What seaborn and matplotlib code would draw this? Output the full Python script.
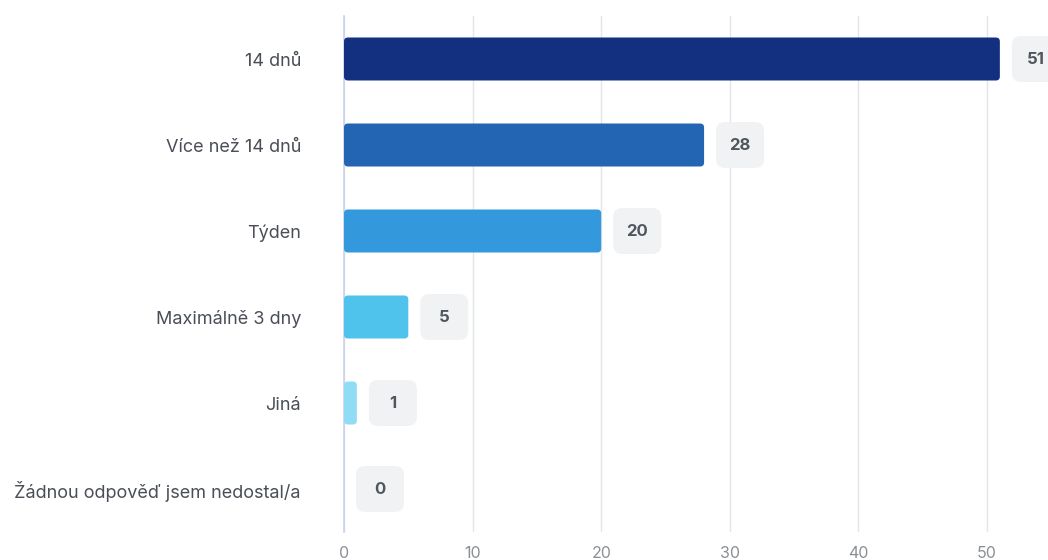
import matplotlib
matplotlib.use("Agg")
import matplotlib.pyplot as plt
from matplotlib.patches import FancyBboxPatch
import seaborn as sns
import pandas as pd

categories = ["14 dnů", "Více než 14 dnů", "Týden", "Maximálně 3 dny", "Jiná",
              "Žádnou odpověď jsem nedostal/a"]
values = [51, 28, 20, 5, 1, 0]
bar_colors = ["#12307f", "#2465b3", "#3499dc", "#4fc3ec", "#8fdcf4", "#c5ecf9"]
x_ticks = [0, 10, 20, 30, 40, 50]

sns.set_theme(style="white")
plt.rcParams["font.family"] = ["Inter", "DejaVu Sans"]

W, H = 1048, 560
fig = plt.figure(figsize=(W / 100, H / 100), dpi=100)
x_max = 55
px_per_unit = 12.86
left, top, bottom = 344, 16, 532
ax = fig.add_axes([left / W, 1 - bottom / H, x_max * px_per_unit / W, (bottom - top) / H])

df = pd.DataFrame({"cat": categories, "val": values})
sns.barplot(data=df, x="val", y="cat", hue="cat", palette=bar_colors, legend=False,
            orient="h", width=0.5, ax=ax, saturation=1)

ax.set_xlim(0, x_max)
ax.set_ylim(len(categories) - 0.5, -0.5)

# y units per pixel vs x units per pixel, for round corners in screen space
row_px = (bottom - top) / len(categories)
aspect = (1 / row_px) / (1 / px_per_unit)

# replace the plain rectangles with rounded ones of the same geometry
for p in list(ax.patches):
    x0, y0 = p.get_x(), p.get_y()
    w, h = p.get_width(), p.get_height()
    fc = p.get_facecolor()
    p.remove()
    if w <= 0:
        continue
    r = min(4 / px_per_unit, w / 2)
    ax.add_patch(FancyBboxPatch((x0, y0), w, h,
                                boxstyle=f"round,pad=0,rounding_size={r}",
                                mutation_aspect=aspect, facecolor=fc,
                                edgecolor="none", zorder=3))

# value badges
box_w = 48 / px_per_unit
box_h = 46 / row_px
gap = 12 / px_per_unit
for i, v in enumerate(values):
    bx = v + gap
    ax.add_patch(FancyBboxPatch((bx, i - box_h / 2), box_w, box_h,
                                boxstyle=f"round,pad=0,rounding_size={9 / px_per_unit}",
                                mutation_aspect=aspect, facecolor="#f1f2f3",
                                edgecolor="none", zorder=3, clip_on=False))
    ax.text(bx + box_w / 2, i, str(v), ha="center", va="center",
            fontsize=12, fontweight="bold", color="#50565f", zorder=4, clip_on=False)

ax.set_xticks(x_ticks)
ax.xaxis.grid(True, color="#e4e5e8", linewidth=1)
ax.set_axisbelow(True)
for s in ["top", "right", "bottom"]:
    ax.spines[s].set_visible(False)
ax.spines["left"].set_color("#c9d2ec")
ax.spines["left"].set_linewidth(1.2)
ax.set_xlabel("")
ax.set_ylabel("")
ax.tick_params(axis="x", length=0, pad=10, labelsize=11.5, labelcolor="#8a8f96")
ax.tick_params(axis="y", length=0, pad=31, labelsize=13, labelcolor="#4a4f57")

fig.savefig("out.png", dpi=100)
